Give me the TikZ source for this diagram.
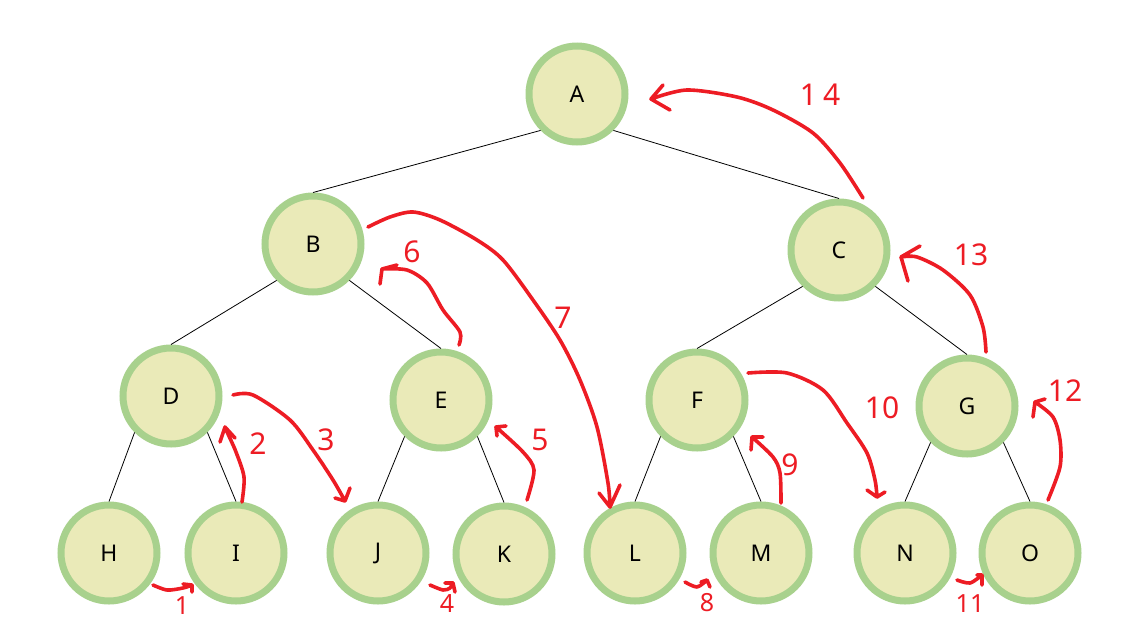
\documentclass[tikz,border=0pt]{standalone}
\usepackage{fontspec}
\setmainfont{Noto Sans}
\definecolor{nfill}{RGB}{234,234,184}
\definecolor{nline}{RGB}{168,209,141}
\definecolor{pen}{RGB}{237,28,36}
\begin{document}
\begin{tikzpicture}[x=1pt,y=-1pt,
  tn/.style={circle, draw=nline, line width=7pt, fill=nfill, minimum size=96pt, inner sep=0pt,
    font=\fontsize{23}{23}\selectfont},
  edge/.style={draw=black, line width=0.8pt},
  redpen/.style={draw=pen, line width=3.6pt, line cap=round, line join=round},
  redlab/.style={text=pen, inner sep=0pt, font=\fontsize{30}{30}\selectfont},
  smalllab/.style={text=pen, inner sep=0pt, font=\fontsize{25}{25}\selectfont}]
\useasboundingbox (0,0) rectangle (1136,622);
% nodes
\node[tn] (A) at (577,94) {A};
\node[tn] (B) at (313,244) {B};
\node[tn] (C) at (839,250) {C};
\node[tn] (D) at (171,396) {D};
\node[tn] (E) at (441,400) {E};
\node[tn] (F) at (697,400) {F};
\node[tn] (G) at (967,406) {G};
\node[tn] (H) at (109,553) {H};
\node[tn] (I) at (236,553) {I};
\node[tn] (J) at (378,553) {J};
\node[tn] (K) at (504,554) {K};
\node[tn] (L) at (635,553) {L};
\node[tn] (M) at (761,553) {M};
\node[tn] (N) at (905,553) {N};
\node[tn] (O) at (1030,553) {O};
% tree edges
\draw[edge] (A.south west) -- (B.north);
\draw[edge] (A.south east) -- (C.north);
\draw[edge] (B.south west) -- (D.north);
\draw[edge] (B.south east) -- (E.north);
\draw[edge] (C.south west) -- (F.north);
\draw[edge] (C.south east) -- (G.north);
\draw[edge] (D.south west) -- (H.north);
\draw[edge] (D.south east) -- (I.north);
\draw[edge] (E.south west) -- (J.north);
\draw[edge] (E.south east) -- (K.north);
\draw[edge] (F.south west) -- (L.north);
\draw[edge] (F.south east) -- (M.north);
\draw[edge] (G.south west) -- (N.north);
\draw[edge] (G.south east) -- (O.north);
% red traversal strokes
\coordinate (t1) at (192,585);
\draw[redpen] plot[smooth] coordinates {(153,585) (167,590) (183,588) (t1)} (183,584) -- (t1) -- (192,592);
\coordinate (t2) at (225,427);
\draw[redpen] plot[smooth] coordinates {(242,502) (244,477) (236,452) (228,434) (t2)} (220,442) -- (t2) -- (235,438);
\coordinate (t3) at (345,501);
\draw[redpen] plot[smooth] coordinates {(233,395) (253,395) (290,420) (313,450) (333,480) (t3)} (335,498) -- (t3) -- (350,488);
\coordinate (t4) at (453,583);
\draw[redpen] plot[smooth] coordinates {(430,585) (443,590) (450,588) (t4)} (445,583) -- (t4) -- (455,592);
\coordinate (t5) at (496,427);
\draw[redpen] plot[smooth] coordinates {(527,500) (534,470) (523,452) (t5)} (497,436) -- (t5) -- (506,426);
\coordinate (t6) at (382,269);
\draw[redpen] plot[smooth] coordinates {(459,345) (460,332) (443,310) (427,283) (407,270) (t6)} (380,284) -- (t6) -- (397,265);
\coordinate (t7) at (610,507);
\draw[redpen] plot[smooth] coordinates {(368,227) (390,217) (413,212) (440,220) (477,240) (503,260) (533,300) (560,340) (580,380) (597,427) (608,483) (t7)} (599,493) -- (t7) -- (620,485);
\coordinate (t8) at (707,580);
\draw[redpen] plot[smooth] coordinates {(685,582) (697,587) (t8)} (701,582) -- (t8) -- (710,587);
\coordinate (t9) at (752,437);
\draw[redpen] plot[smooth] coordinates {(781,503) (780,473) (773,457) (t9)} (751,450) -- (t9) -- (763,437);
\coordinate (t10) at (877,497);
\draw[redpen] plot[smooth] coordinates {(748,373) (787,373) (823,390) (847,423) (867,453) (875,480) (t10)} (867,490) -- (t10) -- (885,492);
\coordinate (t11) at (982,575);
\draw[redpen] plot[smooth] coordinates {(957,580) (970,583) (t11)} (977,575) -- (t11) -- (982,585);
\coordinate (t12) at (1035,402);
\draw[redpen] plot[smooth] coordinates {(1048,500) (1060,467) (1060,440) (1053,417) (t12)} (1033,417) -- (t12) -- (1045,399);
\coordinate (t13) at (901,257);
\draw[redpen] plot[smooth] coordinates {(986,352) (983,327) (970,295) (943,270) (917,257) (t13)} (908,281) -- (t13) -- (920,246);
\coordinate (t14) at (651,99);
\draw[redpen] plot[smooth] coordinates {(863,198) (840,163) (813,133) (773,110) (737,97) (687,90) (t14)} (663,85) -- (t14) -- (670,110);
% step labels
\node[smalllab] (n1) at (182,606) {1};
\node[redlab] (n2) at (258,444) {2};
\node[redlab] (n3) at (326,440) {3};
\node[smalllab] (n4) at (447,604) {4};
\node[redlab] (n5) at (540,440) {5};
\node[redlab] (n6) at (412,252) {6};
\node[redlab] (n7) at (563,318) {7};
\node[smalllab] (n8) at (707,603) {8};
\node[redlab] (n9) at (790,465) {9};
\node[redlab] (n10) at (882,408) {10};
\node[smalllab] (n11) at (970,604) {11};
\node[redlab] (n12) at (1065,391) {12};
\node[redlab] (n13) at (971,255) {13};
\node[redlab] (n14) at (820,95) {1\hspace{6pt}4};
\end{tikzpicture}
\end{document}
